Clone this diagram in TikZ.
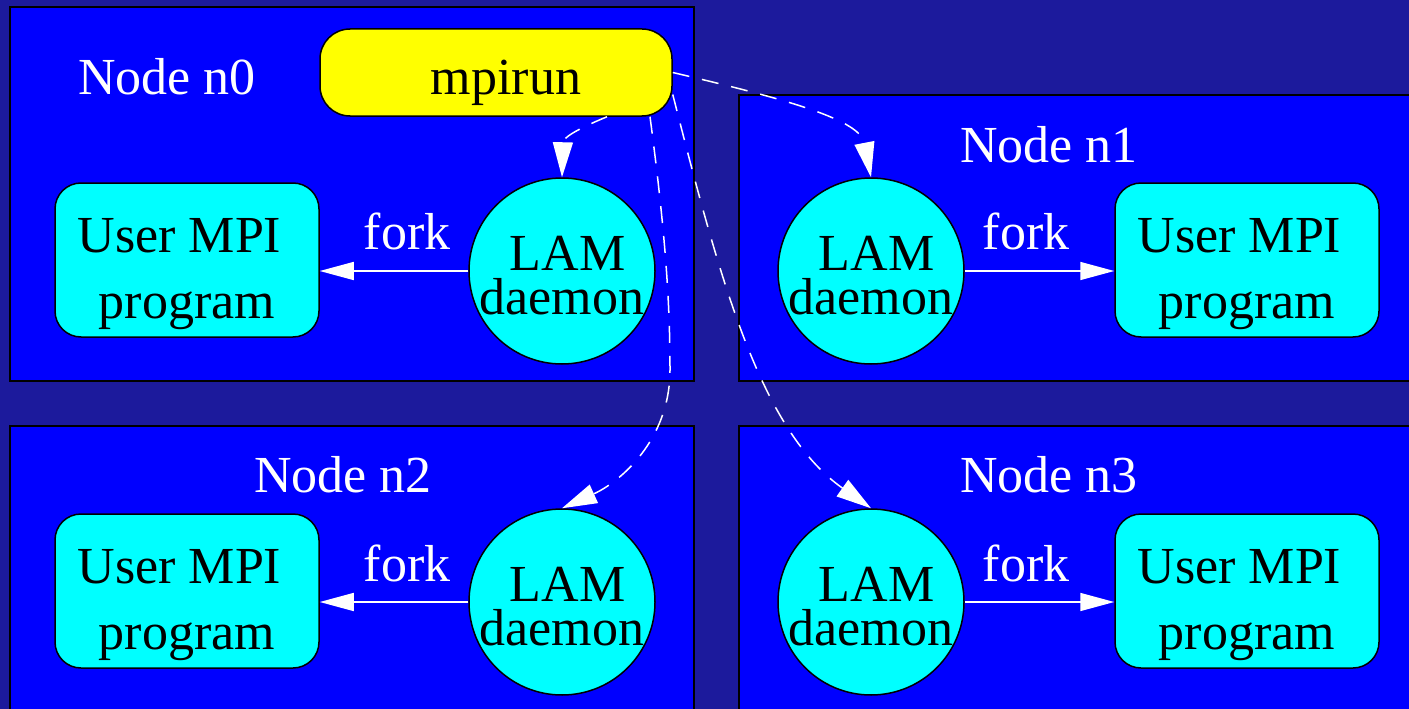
\documentclass[tikz,border=0pt]{standalone}
\usepackage{fontspec}
\setmainfont{Liberation Serif}
\usetikzlibrary{arrows.meta}
\definecolor{bgblue}{RGB}{28,26,156}
\definecolor{boxblue}{RGB}{0,0,255}
\definecolor{procyan}{RGB}{0,255,255}
\definecolor{mpiyellow}{RGB}{255,255,0}
\begin{document}
\begin{tikzpicture}[x=1pt,y=-1pt,
  every node/.style={font=\fontsize{52}{64}\selectfont},
  cluster/.style={draw=black, line width=2pt, fill=boxblue},
  clabel/.style={text=white, inner sep=0pt, anchor=base},
  prog/.style={draw=black, line width=1.5pt, fill=procyan, rounded corners=26pt,
    minimum width=264pt, minimum height=154pt, inner sep=0pt},
  progtext/.style={align=center, inner sep=0pt, font=\fontsize{52}{66}\selectfont},
  daemon/.style={circle, draw=black, line width=1.5pt, fill=procyan, minimum size=186pt,
    inner sep=0pt},
  daemontext/.style={align=center, inner sep=0pt, font=\fontsize{52}{44}\selectfont},
  runner/.style={draw=black, line width=1.5pt, fill=mpiyellow, rounded corners=30pt,
    minimum width=352pt, minimum height=87pt, inner sep=0pt},
  forkarrow/.style={draw=white, line width=1.5pt, -{Triangle[length=34pt,width=18pt]}},
  spawn/.style={draw=white, line width=1.5pt, dash pattern=on 17pt off 13pt,
    -{Triangle[length=35pt,width=20pt]}},
]
\clip (0,0) rectangle (1409,709);
\fill[bgblue] (0,0) rectangle (1409,709);
% clusters
\path[cluster] (10,7) rectangle (694,381);
\path[cluster] (739,95) rectangle (1420,381);
\path[cluster] (10,426) rectangle (694,720);
\path[cluster] (739,426) rectangle (1420,720);
\node[clabel] (l0) at (167,95) {Node n0};
\node[clabel] (l1) at (1049,162) {Node n1};
\node[clabel] (l2) at (343,492) {Node n2};
\node[clabel] (l3) at (1049,492) {Node n3};
% mpirun
\node[runner] (mp) at (496,72.5) {};
\node[anchor=base, inner sep=0pt] (mpt) at (506,95) {mpirun};
% programs
\node[prog] (p0) at (187,260) {};
\node[prog] (p1) at (1247,260) {};
\node[prog] (p2) at (187,591) {};
\node[prog] (p3) at (1247,591) {};
\node[progtext] (p0t) at (187,274) {User MPI\hspace*{15pt}\\program};
\node[progtext] (p1t) at (1247,274) {User MPI\hspace*{15pt}\\program};
\node[progtext] (p2t) at (187,605) {User MPI\hspace*{15pt}\\program};
\node[progtext] (p3t) at (1247,605) {User MPI\hspace*{15pt}\\program};
% daemons
\node[daemon] (d0) at (562,271) {};
\node[daemon] (d1) at (871,271) {};
\node[daemon] (d2) at (562,602) {};
\node[daemon] (d3) at (871,602) {};
\node[daemontext] (d0t) at (562,276) {\hspace*{11pt}LAM\\daemon};
\node[daemontext] (d1t) at (871,276) {\hspace*{11pt}LAM\\daemon};
\node[daemontext] (d2t) at (562,607) {\hspace*{11pt}LAM\\daemon};
\node[daemontext] (d3t) at (871,607) {\hspace*{11pt}LAM\\daemon};
% fork arrows
\draw[forkarrow] (d0.west) -- (d0.west -| p0.east);
\draw[forkarrow] (d1.east) -- (d1.east -| p1.west);
\draw[forkarrow] (d2.west) -- (d2.west -| p2.east);
\draw[forkarrow] (d3.east) -- (d3.east -| p3.west);
\node[clabel] (f0) at (407,249) {fork};
\node[clabel] (f1) at (1026,249) {fork};
\node[clabel] (f2) at (407,581) {fork};
\node[clabel] (f3) at (1026,581) {fork};
% spawn arrows
\coordinate (s0) at ([xshift=111pt]mp.south);
\coordinate (s2) at ([xshift=154pt]mp.south);
\coordinate (s3) at ([yshift=-22pt]mp.east);
\draw[spawn] (s0) .. controls (575,130) and (563,138) .. (d0.north);
\draw[spawn] (mp.east) .. controls (790,100) and (860,120) .. (d1.north);
\draw[spawn] (s2) .. controls (665,230) and (670,300) .. (670,370)
   .. controls (670,440) and (620,482) .. (d2.north);
\draw[spawn] (s3) .. controls (720,280) and (760,430) .. (d3.north);
\end{tikzpicture}
\end{document}
